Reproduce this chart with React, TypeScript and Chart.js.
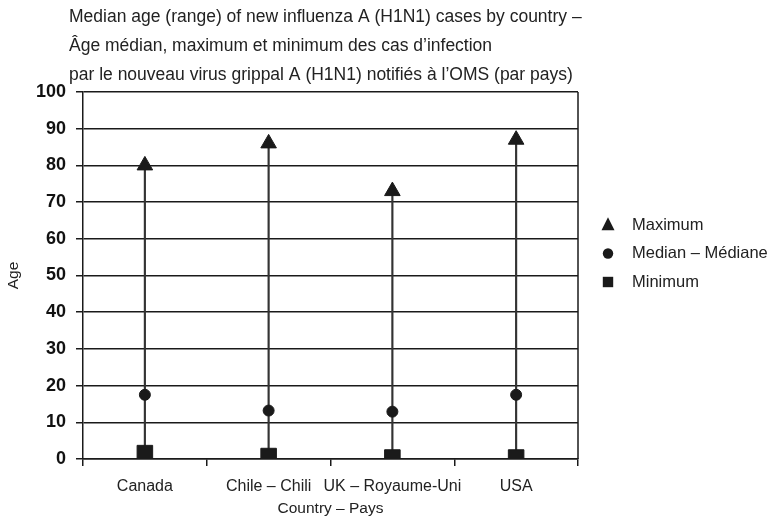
import React, { useEffect, useRef } from "react";
import { Chart, registerables } from "chart.js";

Chart.register(...registerables);

const categories = ["Canada", "Chile – Chili", "UK – Royaume-Uni", "USA"];
const maximumAge = [80, 86, 73, 87];
const medianAge = [17.5, 13.2, 12.9, 17.5];
const minimumAge = [1.6, 0.8, 0.4, 0.4];
const titleLines = [
  "Median age (range) of new influenza A (H1N1) cases by country –",
  "Âge médian, maximum et minimum des cas d’infection",
  "par le nouveau virus grippal A (H1N1) notifiés à l’OMS (par pays)",
];
const seriesLabels = ["Maximum", "Median – Médiane", "Minimum"];
const yAxisTitle = "Age";
const xAxisTitle = "Country – Pays";

const FONT = "'Liberation Sans', Arial, sans-serif";
const INK = "#1a1a1a";

function drawMarker(ctx: CanvasRenderingContext2D, style: string, x: number, y: number, s: number) {
  ctx.beginPath();
  if (style === "triangle") {
    ctx.moveTo(x, y - s * 0.6);
    ctx.lineTo(x + s * 0.5, y + s * 0.4);
    ctx.lineTo(x - s * 0.5, y + s * 0.4);
    ctx.closePath();
    ctx.fill();
  } else if (style === "circle") {
    ctx.arc(x, y, s * 0.4, 0, Math.PI * 2);
    ctx.fill();
  } else {
    ctx.rect(x - s * 0.4, y - s * 0.4, s * 0.8, s * 0.8);
    ctx.fill();
  }
}

const decorPlugin = {
  id: "decor",
  afterDraw(chart: any) {
    const ctx = chart.ctx as CanvasRenderingContext2D;
    const { right, top, bottom } = chart.chartArea;
    ctx.save();
    ctx.strokeStyle = INK;
    ctx.lineWidth = 1.5;
    ctx.beginPath();
    ctx.moveTo(right, top);
    ctx.lineTo(right, bottom);
    ctx.stroke();

    ctx.fillStyle = "#222";
    ctx.font = `17.5px ${FONT}`;
    ctx.textAlign = "left";
    ctx.textBaseline = "middle";
    titleLines.forEach((t, i) => ctx.fillText(t, 69, 17 + i * 29));

    const pts = chart.data.datasets.filter((d: any) => d.type === "line");
    pts.forEach((d: any, i: number) => {
      const y = 225 + i * 28.5;
      ctx.fillStyle = INK;
      drawMarker(ctx, d.pointStyle, 608, y, 13);
      ctx.fillStyle = "#222";
      ctx.font = `16.5px ${FONT}`;
      ctx.fillText(d.label, 632, y);
    });
    ctx.restore();
  },
};

export default function App() {
  const ref = useRef<HTMLCanvasElement>(null);
  useEffect(() => {
    if (!ref.current) return;
    const ranges = categories.map((_, i) => [minimumAge[i], maximumAge[i]]);
    const chart = new Chart(ref.current, {
      type: "bar",
      data: {
        labels: categories,
        datasets: [
          {
            type: "line",
            label: seriesLabels[0],
            data: maximumAge,
            showLine: false,
            pointStyle: "triangle",
            pointRadius: 9,
            pointBackgroundColor: INK,
            pointBorderColor: INK,
            order: 1,
          } as any,
          {
            type: "line",
            label: seriesLabels[1],
            data: medianAge,
            showLine: false,
            pointStyle: "circle",
            pointRadius: 5.5,
            pointBackgroundColor: INK,
            pointBorderColor: INK,
            order: 1,
          },
          {
            type: "line",
            label: seriesLabels[2],
            data: minimumAge,
            showLine: false,
            pointStyle: "rect",
            pointRadius: 11,
            pointBackgroundColor: INK,
            pointBorderColor: INK,
            order: 1,
          },
          {
            type: "bar",
            label: "range",
            data: ranges as any,
            backgroundColor: "#333",
            barThickness: 1.5,
            order: 10,
          },
        ],
      },
      options: {
        responsive: false,
        animation: false,
        events: [],
        layout: { padding: { top: 92, right: 193, left: 0, bottom: 0 } },
        plugins: { legend: { display: false }, tooltip: { enabled: false } },
        scales: {
          x: {
            offset: true,
            grid: {
              offset: true,
              drawOnChartArea: false,
              drawTicks: true,
              tickLength: 7,
              color: INK,
              lineWidth: 1.5,
            },
            border: { display: true, color: INK, width: 1.5 },
            ticks: {
              color: "#222",
              font: { family: FONT, size: 16 },
              padding: 11,
              maxRotation: 0,
              autoSkip: false,
            },
            title: {
              display: true,
              text: xAxisTitle,
              color: "#222",
              font: { family: FONT, size: 15.5 },
              padding: { top: 0, bottom: 6 },
            },
            afterFit(scale: any) {
              scale.height = 65;
            },
          },
          y: {
            min: 0,
            max: 100,
            ticks: {
              stepSize: 10,
              color: "#111",
              font: { family: FONT, size: 18, weight: "bold" },
              padding: 10,
            },
            grid: { color: INK, lineWidth: 1.5, tickLength: 7, drawTicks: true },
            border: { display: true, color: INK, width: 1.5 },
            title: {
              display: true,
              text: yAxisTitle,
              color: "#222",
              font: { family: FONT, size: 15.5 },
              padding: { top: 4, bottom: 0 },
            },
            afterFit(scale: any) {
              scale.width = 83;
            },
          },
        },
      },
      plugins: [decorPlugin],
    });
    return () => chart.destroy();
  }, []);
  return (
    <div style={{ position: "absolute", left: 0, top: 0, width: 771, height: 524, background: "#fff" }}>
      <canvas ref={ref} width={771} height={524} />
    </div>
  );
}
